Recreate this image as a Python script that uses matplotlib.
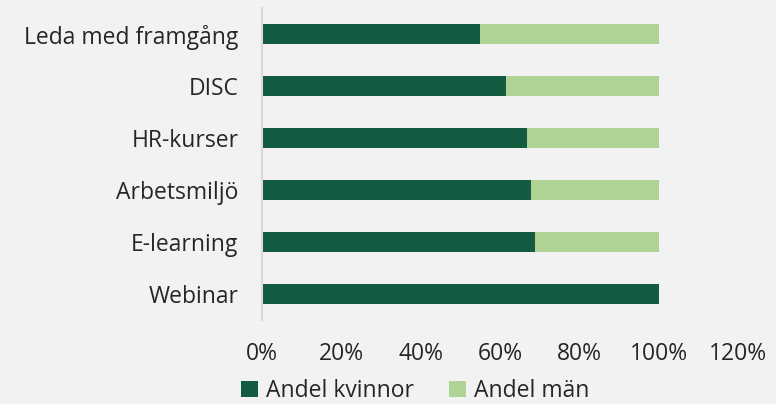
import matplotlib
matplotlib.use("Agg")
import matplotlib.pyplot as plt
from matplotlib.ticker import FuncFormatter

# data, top to bottom as shown
kurser = ["Leda med framgång", "DISC", "HR-kurser", "Arbetsmiljö", "E-learning", "Webinar"]
andel_kvinnor = [0.55, 0.614, 0.667, 0.678, 0.688, 1.00]
andel_man = [1 - v for v in andel_kvinnor]

plt.rcParams["font.family"] = ["Open Sans", "DejaVu Sans"]
bg = "#F2F2F2"
txt = "#262626"
fs = 16.5

fig = plt.figure(figsize=(7.76, 4.04), dpi=100, facecolor=bg)
ax = fig.add_axes([262 / 776, 1 - 320 / 404, (738 - 262) / 776, 312 / 404])
ax.set_facecolor(bg)

y = list(range(len(kurser)))[::-1]
ax.barh(y, andel_kvinnor, height=0.4, color="#135B41", label="Andel kvinnor")
ax.barh(y, andel_man, left=andel_kvinnor, height=0.4, color="#AED394", label="Andel män")

ax.set_xlim(0, 1.2)
ax.set_ylim(-0.5, len(kurser) - 0.5)
ax.set_yticks(y)
ax.set_yticklabels(kurser, fontsize=fs, color=txt)
ax.set_xticks([0, 0.2, 0.4, 0.6, 0.8, 1.0, 1.2])
ax.xaxis.set_major_formatter(FuncFormatter(lambda v, p: f"{v * 100:.0f}%"))
ax.tick_params(axis="x", labelsize=fs, labelcolor=txt, length=0, pad=16)
ax.tick_params(axis="y", length=0, pad=17)

for s in ["top", "right", "bottom"]:
    ax.spines[s].set_visible(False)
ax.spines["left"].set_color("#D9D9D9")
ax.spines["left"].set_linewidth(1.5)

leg = fig.legend(loc="center", bbox_to_anchor=(0.535, 1 - 391 / 404), ncol=2, frameon=False,
                 fontsize=fs, handlelength=0.75, handleheight=0.75, handletextpad=0.35,
                 columnspacing=1.5, labelcolor=txt)

fig.savefig("out.png", dpi=100, facecolor=bg)
